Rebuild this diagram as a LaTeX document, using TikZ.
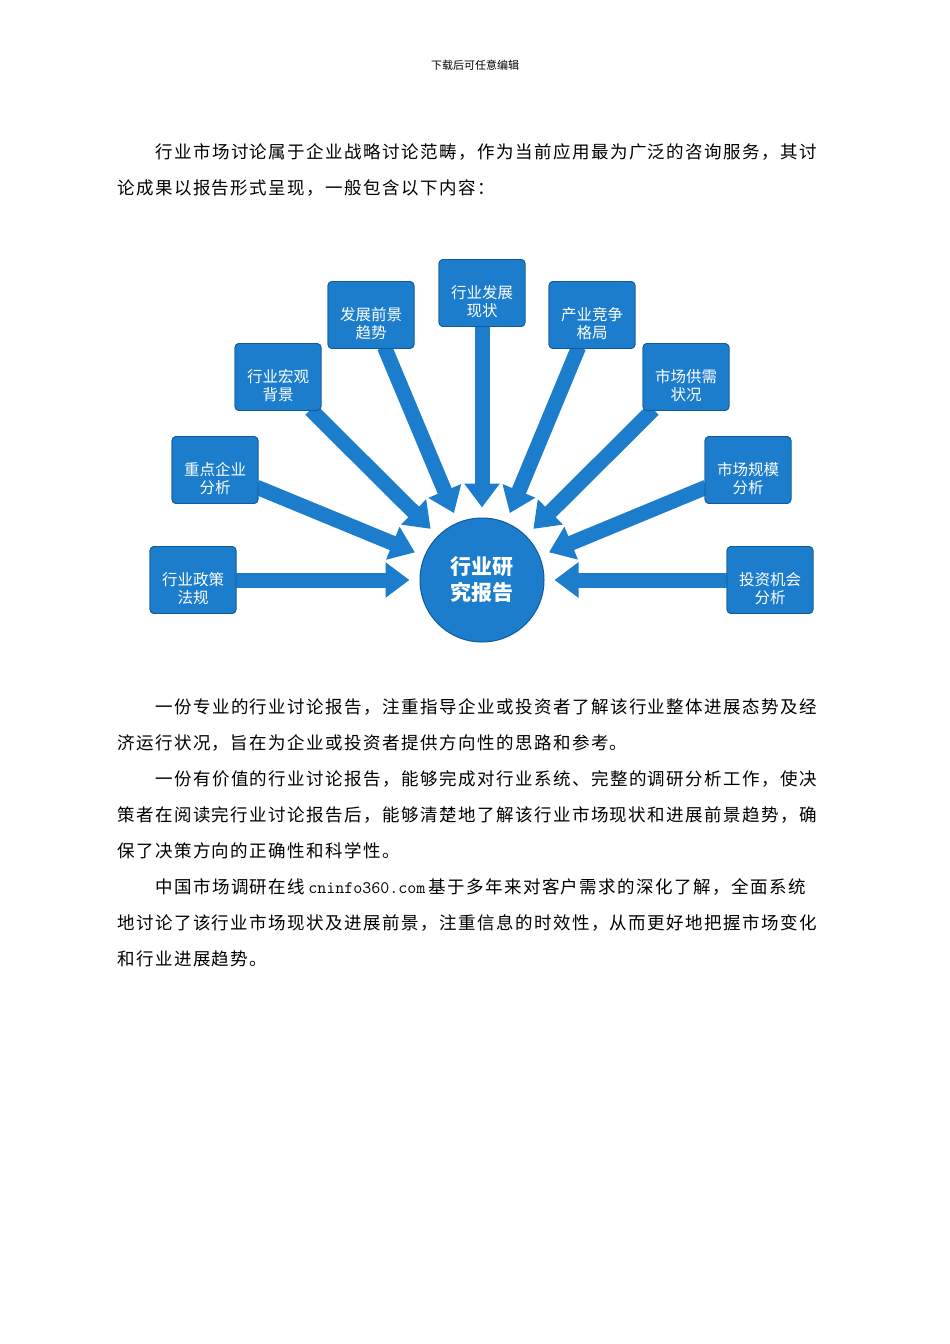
\documentclass[tikz,border=0pt]{standalone}
\usepackage{fontspec}
\newfontfamily\cjk{Noto Sans CJK SC}
\newfontfamily\cjkw[LetterSpace=8.3]{Noto Sans CJK SC}
\usetikzlibrary{arrows.meta}
\definecolor{bx}{HTML}{1B7DCB}
\definecolor{bxd}{HTML}{0F5A9C}
\begin{document}
\begin{tikzpicture}[x=1pt,y=-1pt,
  box/.style={draw=bxd,line width=0.8pt,fill=bx,rounded corners=4pt,minimum width=86pt,minimum height=67pt,inner sep=2pt},
  lbl/.style={text=white,align=center,font=\cjk\fontsize{15.5}{18}\selectfont,inner sep=0pt,yshift=-9pt},
  arr/.style={draw=bx,line width=15pt,-{Triangle[width=34pt,length=24pt]},shorten >=10pt,shorten <=-2pt},
  line/.style={anchor=west,inner sep=0,font=\cjkw\fontsize{17.5}{18}\selectfont}]
\useasboundingbox (0,0) rectangle (950,1344);
\fill[white] (0,0) rectangle (950,1344);
\node[font=\cjk\fontsize{11}{12}\selectfont] (hd) at (475,65) {下载后可任意编辑};
\node[line] (p1) at (155,152) {行业市场讨论属于企业战略讨论范畴，作为当前应用最为广泛的咨询服务，其讨};
\node[line] (p2) at (117,188) {论成果以报告形式呈现，一般包含以下内容：};
\node[circle,fill=bx,draw=bxd,line width=1pt,minimum size=124pt,text=white,align=center,font=\cjk\bfseries\fontsize{21}{26}\selectfont] (c) at (482,580) {行业研\\究报告};
\node[box] (b1) at (193,580) {};
\node[box] (b2) at (215,470) {};
\node[box] (b3) at (278,377) {};
\node[box] (b4) at (371,315) {};
\node[box] (b5) at (482,293) {};
\node[box] (b6) at (592,315) {};
\node[box] (b7) at (686,377) {};
\node[box] (b8) at (748,470) {};
\node[box] (b9) at (770,580) {};
\foreach \b in {b1,b2,b3,b4,b5,b6,b7,b8,b9}{\draw[arr] (\b) -- (c);}
\foreach \b in {b1,b2,b3,b4,b5,b6,b7,b8,b9}{\node[box] at (\b) {};}
\node[lbl] (t1) at (b1) {行业政策\\法规};
\node[lbl] (t2) at (b2) {重点企业\\分析};
\node[lbl] (t3) at (b3) {行业宏观\\背景};
\node[lbl] (t4) at (b4) {发展前景\\趋势};
\node[lbl] (t5) at (b5) {行业发展\\现状};
\node[lbl] (t6) at (b6) {产业竞争\\格局};
\node[lbl] (t7) at (b7) {市场供需\\状况};
\node[lbl] (t8) at (b8) {市场规模\\分析};
\node[lbl] (t9) at (b9) {投资机会\\分析};
\node[line] (q1) at (155,707) {一份专业的行业讨论报告，注重指导企业或投资者了解该行业整体进展态势及经};
\node[line] (q2) at (117,743) {济运行状况，旨在为企业或投资者提供方向性的思路和参考。};
\node[line] (q3) at (155,779) {一份有价值的行业讨论报告，能够完成对行业系统、完整的调研分析工作，使决};
\node[line] (q4) at (117,815) {策者在阅读完行业讨论报告后，能够清楚地了解该行业市场现状和进展前景趋势，确};
\node[line] (q5) at (117,851) {保了决策方向的正确性和科学性。};
\node[line] (q6) at (155,887) {中国市场调研在线\,{\ttfamily\fontsize{17.5}{18}\selectfont cninfo360.com}\,基于多年来对客户需求的深化了解，全面系统};
\node[line] (q7) at (117,923) {地讨论了该行业市场现状及进展前景，注重信息的时效性，从而更好地把握市场变化};
\node[line] (q8) at (117,959) {和行业进展趋势。};
\end{tikzpicture}
\end{document}
